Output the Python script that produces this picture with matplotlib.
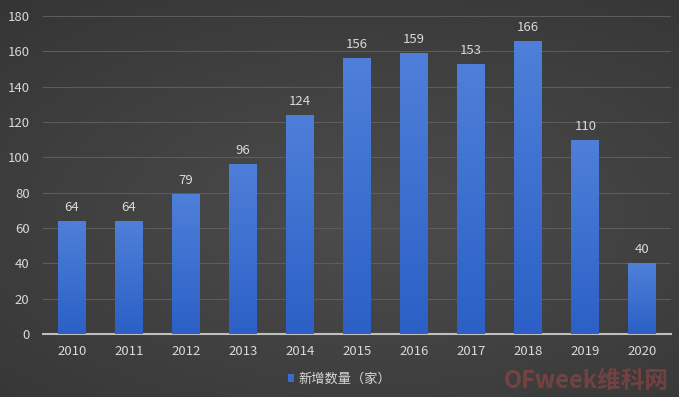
import matplotlib
matplotlib.use("Agg")
import matplotlib.pyplot as plt
import numpy as np
from matplotlib.patches import Patch
from matplotlib.colors import LinearSegmentedColormap

plt.rcParams['font.family'] = ['Noto Sans CJK SC', 'DejaVu Sans']

years = ['2010', '2011', '2012', '2013', '2014', '2015', '2016', '2017', '2018', '2019', '2020']
values = [64, 64, 79, 96, 124, 156, 159, 153, 166, 110, 40]
series_name = '新增数量（家）'

fig = plt.figure(figsize=(6.79, 3.97), dpi=100)

# background gradient
bg = fig.add_axes([0, 0, 1, 1], zorder=-10)
yy, xx = np.mgrid[0:1:200j, 0:1:300j]
r = np.sqrt(((xx - 0.55) / 0.9) ** 2 + ((yy - 0.45) / 0.8) ** 2)
shade = 0.30 - 0.10 * np.clip(r, 0, 1.2)
img = np.dstack([shade, shade, shade])
bg.imshow(img, aspect='auto', extent=[0, 1, 0, 1], origin='lower')
bg.axis('off')

ax = fig.add_axes([0.064, 0.1587, 0.924, 0.801])
ax.set_facecolor('none')
x = np.arange(len(years))
bars = ax.bar(x, values, width=0.49, color='#3a6ad0', zorder=3)
grad = np.linspace(0, 1, 100).reshape(-1, 1)
cmap = LinearSegmentedColormap.from_list('b', ['#2c60c6', '#4e7fd9'])
for b in bars:
    x0, w, h = b.get_x(), b.get_width(), b.get_height()
    im = ax.imshow(grad, cmap=cmap, aspect='auto', extent=[x0, x0 + w, 0, h],
                   origin='lower', zorder=4)
    im.set_clip_path(b)
for xi, v in zip(x, values):
    ax.text(xi, v + 4, str(v), ha='center', va='bottom', color='#d9d9d9', fontsize=9.5, zorder=5)

ax.set_xlim(-0.5, len(years) - 0.5)
ax.set_ylim(0, 180)
ax.set_yticks(range(0, 181, 20))
ax.set_xticks(x)
ax.set_xticklabels(years)
ax.grid(axis='y', color='#5e5e5e', linewidth=0.7, zorder=0)
for s in ['top', 'right', 'left']:
    ax.spines[s].set_visible(False)
ax.spines['bottom'].set_color('#bfbfbf')
ax.spines['bottom'].set_linewidth(1.5)
ax.tick_params(axis='both', length=0, colors='#d9d9d9', labelsize=9.5)
ax.tick_params(axis='x', pad=8)
ax.tick_params(axis='y', pad=10)

fig.legend(handles=[Patch(facecolor='#3a6ad0', label=series_name)], loc='center',
           bbox_to_anchor=(0.5, 0.045), frameon=False, fontsize=9.5,
           labelcolor='#d9d9d9', handlelength=0.5, handleheight=0.5, handletextpad=0.3)

fig.text(0.985, 0.04, 'OFweek维科网', ha='right', va='center', color='#d8504a',
         alpha=0.35, fontsize=17, fontweight='bold', style='italic')

fig.savefig('out.png', dpi=100)
